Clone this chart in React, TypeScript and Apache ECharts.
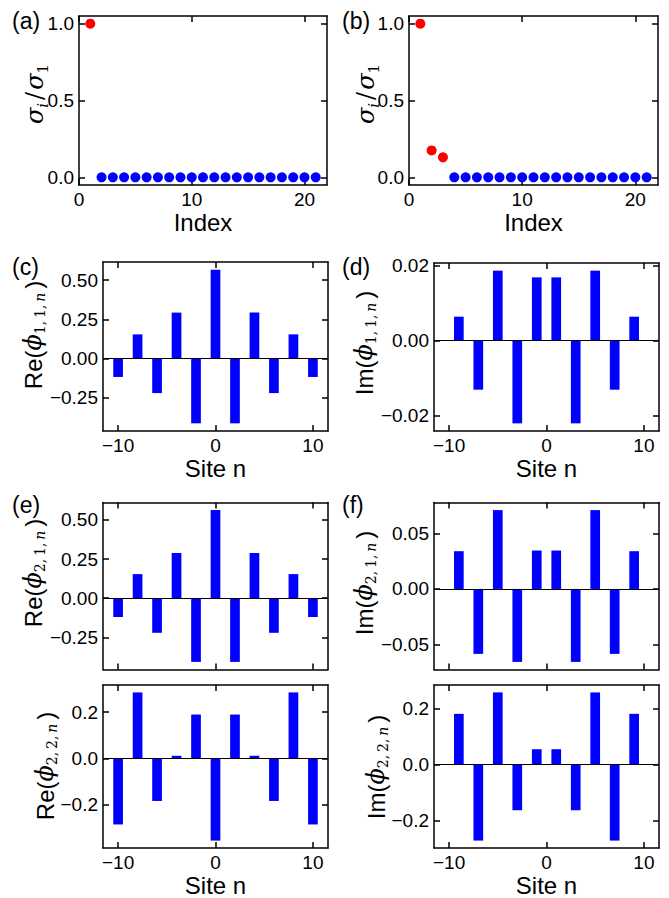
import React, { useEffect, useRef } from "react";
import * as echarts from "echarts";

// ---------- data ----------
const indexValues = [1, 2, 3, 4, 5, 6, 7, 8, 9, 10, 11, 12, 13, 14, 15, 16, 17, 18, 19, 20, 21];
const sigmaA = [1.0, 0, 0, 0, 0, 0, 0, 0, 0, 0, 0, 0, 0, 0, 0, 0, 0, 0, 0, 0, 0];
const sigmaB = [1.0, 0.175, 0.13, 0, 0, 0, 0, 0, 0, 0, 0, 0, 0, 0, 0, 0, 0, 0, 0, 0, 0];
const redCountA = 1;
const redCountB = 3;

const sitesEven = [-10, -8, -6, -4, -2, 0, 2, 4, 6, 8, 10];
const sitesOdd = [-9, -7, -5, -3, -1, 1, 3, 5, 7, 9];

const re11 = [-0.118, 0.154, -0.221, 0.293, -0.414, 0.567, -0.414, 0.293, -0.221, 0.154, -0.118];
const im11 = [0.0064, -0.0131, 0.0187, -0.0221, 0.0169, 0.0169, -0.0221, 0.0187, -0.0131, 0.0064];
const re21 = [-0.12, 0.154, -0.221, 0.289, -0.407, 0.563, -0.407, 0.289, -0.221, 0.154, -0.12];
const im21 = [0.0339, -0.0583, 0.0708, -0.0655, 0.0345, 0.0345, -0.0655, 0.0708, -0.0583, 0.0339];
const re22 = [-0.287, 0.286, -0.185, 0.011, 0.19, -0.357, 0.19, 0.011, -0.185, 0.286, -0.287];
const im22 = [0.182, -0.273, 0.259, -0.164, 0.055, 0.055, -0.164, 0.259, -0.273, 0.182];

const indexTicks = [0, 10, 20];
const siteTicks = [-10, 0, 10];
const sigmaTicks = [0, 0.5, 1.0];
const re1Ticks = [-0.25, 0, 0.25, 0.5];
const im11Ticks = [-0.02, 0, 0.02];
const im21Ticks = [-0.05, 0, 0.05];
const re22Ticks = [-0.2, 0, 0.2];
const im22Ticks = [-0.2, 0, 0.2];

const panelLetters = ["(a)", "(b)", "(c)", "(d)", "(e)", "(f)"];

// ---------- styles ----------
const SANS = "'Liberation Sans', Arial, Helvetica, sans-serif";
const SERIF = "'DejaVu Serif', 'Liberation Serif', serif";
const TICK_FS = 19;
const LABEL_FS = 24;
const SUB_FS = 14;
const BLUE = "#0000ff";
const RED = "#ff0000";

function limits(vals: number[]): [number, number] {
  const lo = Math.min(0, ...vals);
  const hi = Math.max(0, ...vals);
  const r = hi - lo;
  return [lo - 0.05 * r, hi + 0.05 * r];
}

const tok = (o: any) => ({ fill: "#000", color: "#000", verticalAlign: "top", ...o });
const richStyles = {
  m: tok({ fontFamily: SANS, fontSize: LABEL_FS, lineHeight: LABEL_FS }),
  g: tok({ fontFamily: SERIF, fontStyle: "italic", fontSize: LABEL_FS, lineHeight: LABEL_FS }),
  sl: tok({ fontFamily: SERIF, fontSize: LABEL_FS, lineHeight: LABEL_FS, padding: [0, 2, 0, 3] }),
  s: tok({ fontFamily: SERIF, fontSize: 15, lineHeight: 15, padding: [12, 0, 0, 0] }),
  si: tok({ fontFamily: SERIF, fontStyle: "italic", fontSize: 15, lineHeight: 15, padding: [12, 0, 0, 0] }),
  p: tok({ fontFamily: SERIF, fontSize: SUB_FS, lineHeight: SUB_FS, padding: [12, 0, 0, 0] }),
  pi: tok({ fontFamily: SERIF, fontStyle: "italic", fontSize: SUB_FS, lineHeight: SUB_FS, padding: [12, 4, 0, 0] }),
};

const sigmaName = "{g|σ}{si|i}{sl|/}{g|σ}{s|1}";
const phiName = (part: string, a: string, b: string) =>
  `{m|${part}(}{g|ϕ}{p|${a},\u2009${b},\u2009}{pi|n}{m|)}`;

type Panel = {
  grid: { left: number; top: number; width: number; height: number };
  xRange: [number, number];
  xTicks: number[];
  xDec: number;
  yRange: [number, number];
  yTicks: number[];
  yDec: number;
  xName?: string;
  showXLabels: boolean;
  yName: string;
  yNamePos: [number, number];
  kind: "scatter" | "bar";
  xs: number[];
  ys: number[];
  redCount?: number;
};

const siteRange: [number, number] = [-11.55, 11.55];

const panels: Panel[] = [
  {
    grid: { left: 79, top: 16, width: 248, height: 169 },
    xRange: [0, 22], xTicks: indexTicks, xDec: 0,
    yRange: limits(sigmaA), yTicks: sigmaTicks, yDec: 1,
    xName: "Index", showXLabels: true, yName: sigmaName, yNamePos: [35, 94],
    kind: "scatter", xs: indexValues, ys: sigmaA, redCount: redCountA,
  },
  {
    grid: { left: 409, top: 16, width: 249, height: 169 },
    xRange: [0, 22], xTicks: indexTicks, xDec: 0,
    yRange: limits(sigmaB), yTicks: sigmaTicks, yDec: 1,
    xName: "Index", showXLabels: true, yName: sigmaName, yNamePos: [366, 94],
    kind: "scatter", xs: indexValues, ys: sigmaB, redCount: redCountB,
  },
  {
    grid: { left: 103, top: 262, width: 225, height: 169 },
    xRange: siteRange, xTicks: siteTicks, xDec: 0,
    yRange: limits(re11), yTicks: re1Ticks, yDec: 2,
    xName: "Site n", showXLabels: true, yName: phiName("Re", "1", "1"), yNamePos: [33, 335],
    kind: "bar", xs: sitesEven, ys: re11,
  },
  {
    grid: { left: 434, top: 263, width: 225, height: 168 },
    xRange: siteRange, xTicks: siteTicks, xDec: 0,
    yRange: limits(im11), yTicks: im11Ticks, yDec: 2,
    xName: "Site n", showXLabels: true, yName: phiName("Im", "1", "1"), yNamePos: [364, 343],
    kind: "bar", xs: sitesOdd, ys: im11,
  },
  {
    grid: { left: 103, top: 502.5, width: 225, height: 167 },
    xRange: siteRange, xTicks: siteTicks, xDec: 0,
    yRange: limits(re21), yTicks: re1Ticks, yDec: 2,
    showXLabels: false, yName: phiName("Re", "2", "1"), yNamePos: [33, 573],
    kind: "bar", xs: sitesEven, ys: re21,
  },
  {
    grid: { left: 434, top: 502.5, width: 225, height: 167 },
    xRange: siteRange, xTicks: siteTicks, xDec: 0,
    yRange: limits(im21), yTicks: im21Ticks, yDec: 2,
    showXLabels: false, yName: phiName("Im", "2", "1"), yNamePos: [364, 583],
    kind: "bar", xs: sitesOdd, ys: im21,
  },
  {
    grid: { left: 103, top: 685, width: 225, height: 167 },
    xRange: siteRange, xTicks: siteTicks, xDec: 0,
    yRange: limits(re22), yTicks: re22Ticks, yDec: 1,
    xName: "Site n", showXLabels: true, yName: phiName("Re", "2", "2"), yNamePos: [45, 766],
    kind: "bar", xs: sitesEven, ys: re22,
  },
  {
    grid: { left: 434, top: 685, width: 225, height: 167 },
    xRange: siteRange, xTicks: siteTicks, xDec: 0,
    yRange: limits(im22), yTicks: im22Ticks, yDec: 1,
    xName: "Site n", showXLabels: true, yName: phiName("Im", "2", "2"), yNamePos: [376, 767],
    kind: "bar", xs: sitesOdd, ys: im22,
  },
];

const letterPos = [
  { x: 12, y: 21 },
  { x: 342, y: 21 },
  { x: 12, y: 267 },
  { x: 342, y: 267 },
  { x: 12, y: 505 },
  { x: 342, y: 505 },
];

const fmt = (dec: number) => (v: number) => {
  const s = Number(v).toFixed(dec);
  return s.startsWith("-") ? "−" + s.slice(1) : s;
};

function buildOption() {
  const grid: any[] = [];
  const xAxis: any[] = [];
  const yAxis: any[] = [];
  const series: any[] = [];
  const graphic: any[] = [];
  const lineStyle = { color: "#000", width: 1.5 };
  const tick = (vals: number[]) => ({
    show: true,
    inside: true,
    length: 6,
    lineStyle: { color: "#000", width: 1.5 },
    customValues: vals,
  });

  panels.forEach((p, i) => {
    grid.push({ ...p.grid, containLabel: false });
    xAxis.push({
      type: "value",
      gridIndex: i,
      position: "bottom",
      min: p.xRange[0],
      max: p.xRange[1],
      axisLine: { show: true, onZero: false, lineStyle },
      axisTick: tick(p.xTicks),
      splitLine: { show: false },
      axisLabel: {
        show: p.showXLabels,
        customValues: p.xTicks,
        formatter: fmt(p.xDec),
        fontSize: TICK_FS,
        fontFamily: SANS,
        color: "#000",
        margin: 5,
      },
      name: p.xName || "",
      nameLocation: "middle",
      nameGap: 25,
      nameTextStyle: { fontSize: LABEL_FS, fontFamily: SANS, color: "#000" },
    });
    xAxis.push({
      type: "value",
      gridIndex: i,
      position: "top",
      min: p.xRange[0],
      max: p.xRange[1],
      axisLine: { show: true, onZero: false, lineStyle },
      axisTick: tick(p.xTicks),
      splitLine: { show: false },
      axisLabel: { show: false },
    });
    yAxis.push({
      type: "value",
      gridIndex: i,
      position: "left",
      min: p.yRange[0],
      max: p.yRange[1],
      axisLine: { show: true, onZero: false, lineStyle },
      axisTick: tick(p.yTicks),
      splitLine: { show: false },
      axisLabel: {
        show: true,
        customValues: p.yTicks,
        formatter: fmt(p.yDec),
        fontSize: TICK_FS,
        fontFamily: SANS,
        color: "#000",
        margin: 5,
      },
    });
    yAxis.push({
      type: "value",
      gridIndex: i,
      position: "right",
      min: p.yRange[0],
      max: p.yRange[1],
      axisLine: { show: true, onZero: false, lineStyle },
      axisTick: tick(p.yTicks),
      splitLine: { show: false },
      axisLabel: { show: false },
    });

    graphic.push({
      type: "text",
      x: p.yNamePos[0],
      y: p.yNamePos[1],
      rotation: Math.PI / 2,
      style: {
        text: p.yName,
        rich: richStyles,
        fontSize: LABEL_FS,
        fontFamily: SANS,
        fill: "#000",
        align: "center",
        verticalAlign: "middle",
      },
    });

    const xi = 2 * i;
    const yi = 2 * i;
    if (p.kind === "scatter") {
      const pts = p.xs.map((x, k) => [x, p.ys[k]]);
      const rc = p.redCount || 0;
      series.push({
        type: "scatter",
        xAxisIndex: xi,
        yAxisIndex: yi,
        data: pts.slice(rc),
        symbolSize: 10,
        itemStyle: { color: BLUE, opacity: 1 },
      });
      series.push({
        type: "scatter",
        xAxisIndex: xi,
        yAxisIndex: yi,
        data: pts.slice(0, rc),
        symbolSize: 10,
        itemStyle: { color: RED, opacity: 1 },
      });
    } else {
      series.push({
        type: "bar",
        xAxisIndex: xi,
        yAxisIndex: yi,
        data: p.xs.map((x, k) => [x, p.ys[k]]),
        barWidth: 9.7,
        itemStyle: { color: BLUE },
        markLine: {
          silent: true,
          symbol: "none",
          label: { show: false },
          lineStyle: { color: "#000", width: 1, type: "solid" },
          data: [{ yAxis: 0 }],
        },
      });
    }
  });

  panelLetters.forEach((t, i) => {
    graphic.push({
      type: "text",
      x: letterPos[i].x,
      y: letterPos[i].y,
      style: {
        text: t,
        fontSize: 23,
        fontFamily: SANS,
        fill: "#000",
        verticalAlign: "middle",
        align: "left",
      },
    });
  });

  return {
    animation: false,
    backgroundColor: "#fff",
    grid,
    xAxis,
    yAxis,
    series,
    graphic,
  };
}

export default function App() {
  const ref = useRef<HTMLDivElement>(null);
  useEffect(() => {
    if (!ref.current) return;
    const chart = echarts.init(ref.current, undefined, { renderer: "svg" });
    chart.setOption(buildOption() as any);
    return () => chart.dispose();
  }, []);
  return (
    <div
      ref={ref}
      style={{ position: "absolute", left: 0, top: 0, width: 669, height: 898, background: "#fff" }}
    />
  );
}
